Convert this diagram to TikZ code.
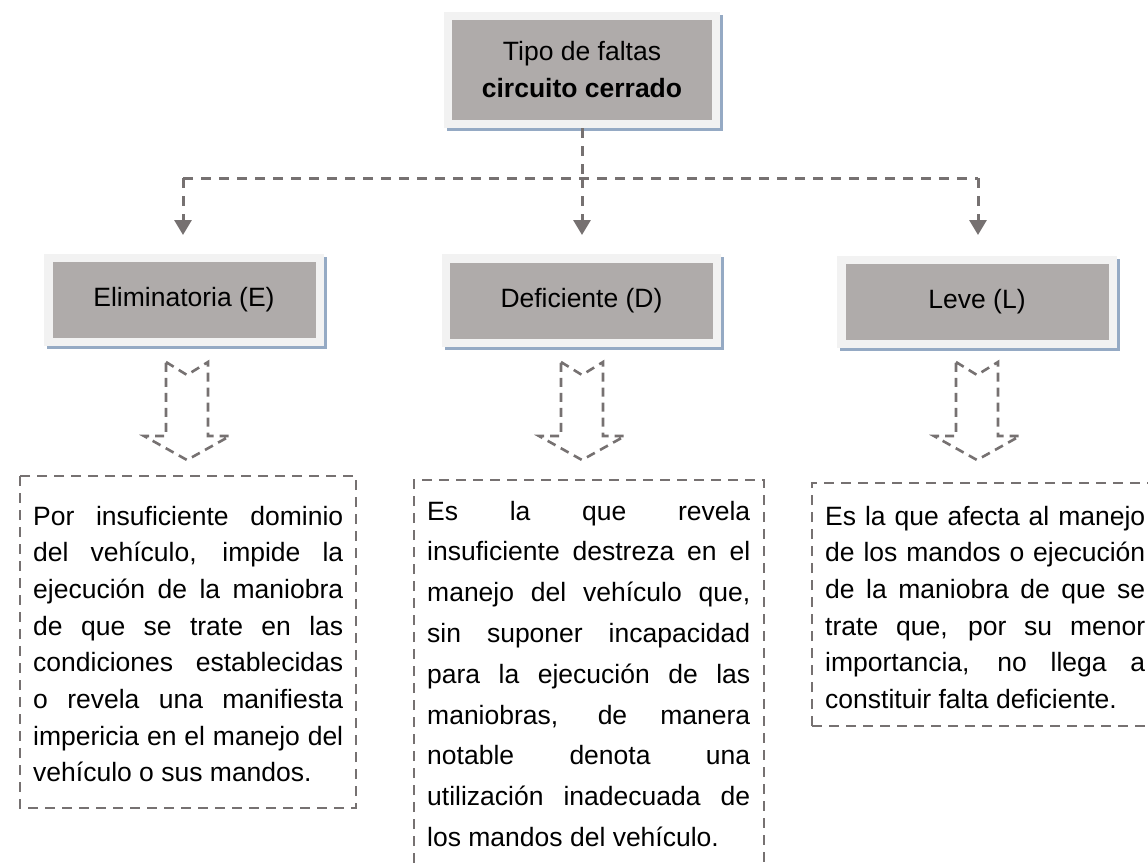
\documentclass[tikz,border=0pt]{standalone}
\usepackage{fontspec}
\setmainfont{Liberation Sans}
\usetikzlibrary{arrows.meta,backgrounds}
\definecolor{boxfill}{RGB}{175,171,170}
\definecolor{framefill}{RGB}{242,242,242}
\definecolor{shadowc}{RGB}{149,170,196}
\definecolor{dashc}{RGB}{118,113,113}
\tolerance=10000
\pretolerance=-1
\hyphenpenalty=10000
\hbadness=10000
\tikzset{
  hdr/.style={fill=boxfill, inner sep=0pt, minimum width=263pt, minimum height=76pt,
    font=\fontsize{26.5}{37}\selectfont, align=center, text=black},
  conn/.style={draw=dashc, line width=3pt, dash pattern=on 10pt off 8pt},
  tiphead/.style={-{Triangle[width=17pt,length=15pt]}, dashc},
  blk/.style={draw=dashc, line width=2.6pt, dash pattern=on 9pt off 6pt},
  tbox/.style={draw=dashc, line width=2.6pt, dash pattern=on 10pt off 7pt},
  body/.style 2 args={anchor=base west, inner sep=0pt, text width=#1, align=justify,
    font=\fontsize{26.5}{#2}\selectfont},
  blockarrow/.pic={\draw[blk] (-21,362) -- (0,375) -- (21,362) -- (21,436) -- (43,436)
    -- (0,460) -- (-43,436) -- (-21,436) -- cycle;}
}
\begin{document}
\begin{tikzpicture}[x=1pt,y=-1pt]
\useasboundingbox (0,0) rectangle (1148,862);
\clip (0,0) rectangle (1148,862);
% header boxes
\node[hdr, minimum width=260pt, minimum height=100pt] (top) at (582,70)
  {Tipo de faltas\\\textbf{circuito cerrado}};
\node[hdr] (eh) at (184,300) {Eliminatoria (E)};
\node[hdr] (dh) at (581.5,300.5) {Deficiente (D)};
\node[hdr] (lh) at (977,302) {Leve (L)};
\begin{scope}[on background layer]
\foreach \n in {top,eh,dh,lh}{
  \fill[shadowc] ([shift={(-5,-5)}]\n.north west) rectangle ([shift={(11,11)}]\n.south east);
  \fill[framefill] ([shift={(-8,-8)}]\n.north west) rectangle ([shift={(8,8)}]\n.south east);
}
\end{scope}
% connectors
\coordinate (hl) at (183,178);
\coordinate (hm) at (582,178);
\coordinate (hr) at (978,178);
\coordinate (tl) at (183,235);
\coordinate (tm) at (582,235);
\coordinate (tr) at (978,235);
\draw[conn] ([yshift=-8pt]top.south) -- (hm);
\draw[conn] (hl) -- (hr);
\draw[conn,tiphead] (hl) -- (tl);
\draw[conn,tiphead] (hm) -- (tm);
\draw[conn,tiphead] (hr) -- (tr);
% block arrows
\pic at (187,0) {blockarrow};
\pic at (582,0) {blockarrow};
\pic at (977,0) {blockarrow};
% text boxes
\draw[tbox] (20,476) rectangle (356,808);
\draw[tbox] (414,880) -- (414,480) -- (764,480) -- (764,880);
\draw[tbox] (812,726) -- (812,483) -- (1160,483);
\draw[tbox] (812,726) -- (1160,726);
\node[body={310pt}{36.7pt}] (et) at (33,525)
  {Por insuficiente dominio\linebreak del vehículo, impide la\linebreak ejecución de la maniobra\linebreak de que se trate en las\linebreak condiciones establecidas\linebreak o revela una manifiesta\linebreak impericia en el manejo del\linebreak vehículo o sus mandos.};
\node[body={323pt}{40.8pt}] (dt) at (427,520)
  {Es la que revela\linebreak insuficiente destreza en el\linebreak manejo del vehículo que,\linebreak sin suponer incapacidad\linebreak para la ejecución de las\linebreak maniobras, de manera\linebreak notable denota una\linebreak utilización inadecuada de\linebreak los mandos del vehículo.};
\node[body={320pt}{36.7pt}] (lt) at (825,525)
  {Es la que afecta al manejo\linebreak de los mandos o ejecución\linebreak de la maniobra de que se\linebreak trate que, por su menor\linebreak importancia, no llega a\linebreak constituir falta deficiente.};
\end{tikzpicture}
\end{document}
